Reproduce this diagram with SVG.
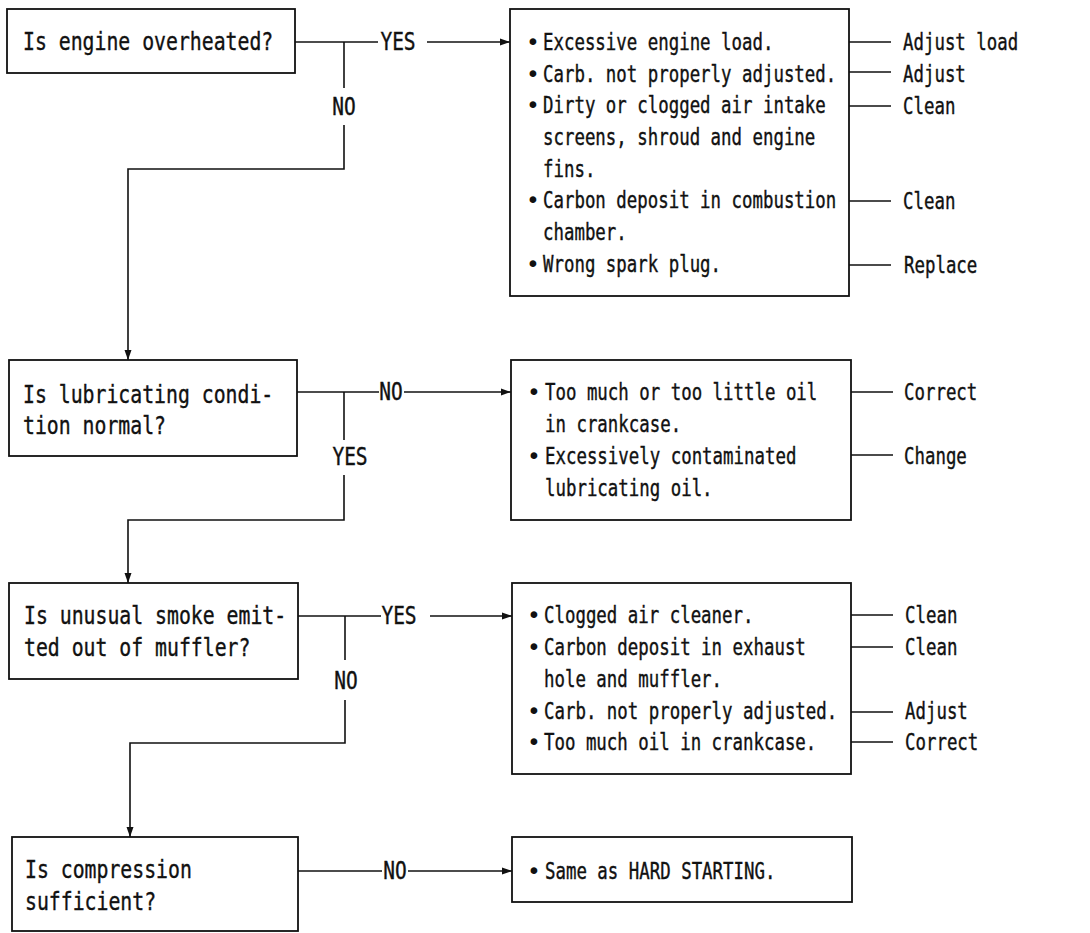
<svg xmlns="http://www.w3.org/2000/svg" width="1090" height="933" viewBox="0 0 1090 933">
<defs>
<style>
.box{fill:#fff;stroke:#111;stroke-width:1.8}
.ln{fill:none;stroke:#111;stroke-width:1.6}
.t{font-family:"DejaVu Sans Mono","Liberation Mono",monospace;font-size:19.8px;fill:#111;stroke:#111;stroke-width:0.3}
.s{font-family:"DejaVu Sans Mono","Liberation Mono",monospace;font-size:17.4px;fill:#111;stroke:#111;stroke-width:0.3}
.b{font-family:"DejaVu Sans Mono","Liberation Mono",monospace;font-size:23px;fill:#111}
.lb{font-family:"DejaVu Sans Mono","Liberation Mono",monospace;font-size:19.5px;fill:#111;stroke:#111;stroke-width:0.3;text-anchor:middle}
</style>
<marker id="ar" markerUnits="userSpaceOnUse" markerWidth="11" markerHeight="8" refX="10" refY="4" orient="auto">
<path d="M0,0.5 L10,4 L0,7.5 z" fill="#111"/>
</marker>
</defs>
<rect width="1090" height="933" fill="#fff"/>

<g id="connectors">
<path class="ln" d="M295,42 H378"/>
<path class="ln" d="M427,42 H510" marker-end="url(#ar)"/>
<path class="ln" d="M344,42 V88"/>
<path class="ln" d="M344,125 V169 H128 V360" marker-end="url(#ar)"/>
<text class="lb" transform="translate(398 50) scale(1 1.28)">YES</text>
<text class="lb" transform="translate(344 115) scale(1 1.28)">NO</text>
<path class="ln" d="M297,392 H379"/>
<path class="ln" d="M404,392 H511" marker-end="url(#ar)"/>
<path class="ln" d="M344,392 V440"/>
<path class="ln" d="M344,475 V520 H128 V583" marker-end="url(#ar)"/>
<text class="lb" transform="translate(391 400) scale(1 1.28)">NO</text>
<text class="lb" transform="translate(350 465) scale(1 1.28)">YES</text>
<path class="ln" d="M298,616 H381"/>
<path class="ln" d="M430,616 H512" marker-end="url(#ar)"/>
<path class="ln" d="M345,616 V660"/>
<path class="ln" d="M345,700 V743 H130 V837" marker-end="url(#ar)"/>
<text class="lb" transform="translate(399 624) scale(1 1.28)">YES</text>
<text class="lb" transform="translate(346 689) scale(1 1.28)">NO</text>
<path class="ln" d="M298,871 H382"/>
<path class="ln" d="M408,871 H512" marker-end="url(#ar)"/>
<text class="lb" transform="translate(395 879) scale(1 1.28)">NO</text>
<path class="ln" d="M849,42 H891 M849,72 H891 M849,106 H891 M849,201 H891 M849,265 H891"/>
<path class="ln" d="M851,392 H893 M851,455 H893"/>
<path class="ln" d="M851,615 H893 M851,647 H893 M851,712 H893 M851,742 H893"/>
</g>

<g id="q1">
<rect class="box" x="7" y="9" width="288" height="64"/>
<text class="t" transform="translate(23 50) scale(1 1.25)">Is engine overheated?</text>
</g>
<g id="q2">
<rect class="box" x="9" y="360" width="288" height="96"/>
<text class="t" transform="translate(23 403) scale(1 1.25)">Is lubricating condi-</text>
<text class="t" transform="translate(23 434) scale(1 1.25)">tion normal?</text>
</g>
<g id="q3">
<rect class="box" x="9" y="583" width="289" height="96"/>
<text class="t" transform="translate(24 624) scale(1 1.25)">Is unusual smoke emit-</text>
<text class="t" transform="translate(24 656) scale(1 1.25)">ted out of muffler?</text>
</g>
<g id="q4">
<rect class="box" x="12" y="837" width="286" height="94"/>
<text class="t" transform="translate(25 878) scale(1 1.25)">Is compression</text>
<text class="t" transform="translate(25 910) scale(1 1.25)">sufficient?</text>
</g>

<g id="r1">
<rect class="box" x="510" y="9" width="339" height="287"/>
<text class="b" x="526" y="50">•</text><text class="s" transform="translate(543 50) scale(1 1.33)">Excessive engine load.</text>
<text class="b" x="526" y="82">•</text><text class="s" transform="translate(543 82) scale(1 1.33)">Carb. not properly adjusted.</text>
<text class="b" x="526" y="113">•</text><text class="s" transform="translate(543 113) scale(1 1.33)">Dirty or clogged air intake</text>
<text class="s" transform="translate(543 145) scale(1 1.33)">screens, shroud and engine</text>
<text class="s" transform="translate(543 177) scale(1 1.33)">fins.</text>
<text class="b" x="526" y="208">•</text><text class="s" transform="translate(543 208) scale(1 1.33)">Carbon deposit in combustion</text>
<text class="s" transform="translate(543 240) scale(1 1.33)">chamber.</text>
<text class="b" x="526" y="272">•</text><text class="s" transform="translate(543 272) scale(1 1.33)">Wrong spark plug.</text>
<text class="s" transform="translate(903 50) scale(1 1.33)">Adjust load</text>
<text class="s" transform="translate(903 82) scale(1 1.33)">Adjust</text>
<text class="s" transform="translate(903 114) scale(1 1.33)">Clean</text>
<text class="s" transform="translate(903 209) scale(1 1.33)">Clean</text>
<text class="s" transform="translate(904 273) scale(1 1.33)">Replace</text>
</g>

<g id="r2">
<rect class="box" x="511" y="360" width="340" height="160"/>
<text class="b" x="527" y="400">•</text><text class="s" transform="translate(545 400) scale(1 1.33)">Too much or too little oil</text>
<text class="s" transform="translate(545 432) scale(1 1.33)">in crankcase.</text>
<text class="b" x="527" y="464">•</text><text class="s" transform="translate(545 464) scale(1 1.33)">Excessively contaminated</text>
<text class="s" transform="translate(545 496) scale(1 1.33)">lubricating oil.</text>
<text class="s" transform="translate(904 400) scale(1 1.33)">Correct</text>
<text class="s" transform="translate(904 464) scale(1 1.33)">Change</text>
</g>

<g id="r3">
<rect class="box" x="512" y="583" width="339" height="191"/>
<text class="b" x="527" y="623">•</text><text class="s" transform="translate(544 623) scale(1 1.33)">Clogged air cleaner.</text>
<text class="b" x="527" y="655">•</text><text class="s" transform="translate(544 655) scale(1 1.33)">Carbon deposit in exhaust</text>
<text class="s" transform="translate(544 687) scale(1 1.33)">hole and muffler.</text>
<text class="b" x="527" y="719">•</text><text class="s" transform="translate(544 719) scale(1 1.33)">Carb. not properly adjusted.</text>
<text class="b" x="527" y="750">•</text><text class="s" transform="translate(544 750) scale(1 1.33)">Too much oil in crankcase.</text>
<text class="s" transform="translate(905 623) scale(1 1.33)">Clean</text>
<text class="s" transform="translate(905 655) scale(1 1.33)">Clean</text>
<text class="s" transform="translate(905 719) scale(1 1.33)">Adjust</text>
<text class="s" transform="translate(905 750) scale(1 1.33)">Correct</text>
</g>

<g id="r4">
<rect class="box" x="512" y="837" width="340" height="65"/>
<text class="b" x="527" y="879">•</text><text class="s" transform="translate(545 879) scale(1 1.33)">Same as HARD STARTING.</text>
</g>
</svg>
